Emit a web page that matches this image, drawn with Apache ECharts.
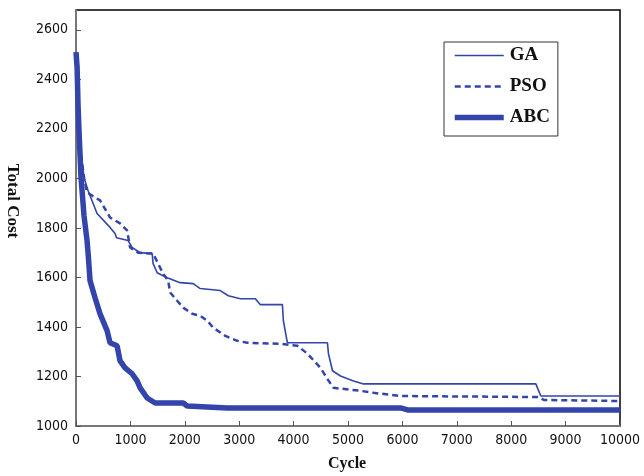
<!DOCTYPE html>
<html><head><meta charset="utf-8">
<script src="https://cdn.jsdelivr.net/npm/echarts@6/dist/echarts.min.js"></script>
<style>html,body{margin:0;padding:0;background:#fff}#c{width:644px;height:476px}</style>
</head><body><div id="c"></div>
<script>
const xTicks = [0,1000,2000,3000,4000,5000,6000,7000,8000,9000,10000];
const yTicks = [1000,1200,1400,1600,1800,2000,2200,2400,2600];
const seriesNames = ['GA','PSO','ABC'];
const gaData = [[0,2500],[40,2300],[90,2100],[150,2000],[221,1951],[387,1858],[626,1802],[718,1777],[745,1760],[958,1749],[1031,1721],[1179,1700],[1400,1696],[1418,1656],[1492,1619],[1676,1599],[1915,1579],[2155,1575],[2284,1555],[2652,1547],[2800,1526],[3020,1514],[3297,1514],[3389,1490],[3794,1490],[3812,1425],[3886,1336],[4622,1336],[4641,1292],[4715,1223],[4862,1202],[5101,1182],[5285,1170],[8453,1170],[8490,1150],[8545,1121],[10000,1121]];
const psoData = [[0,2500],[40,2300],[90,2100],[150,2000],[203,1943],[442,1911],[626,1842],[810,1818],[939,1790],[994,1721],[1142,1700],[1418,1696],[1510,1656],[1602,1615],[1694,1587],[1731,1539],[1860,1506],[1971,1478],[2136,1453],[2284,1445],[2413,1425],[2523,1397],[2744,1364],[2965,1344],[3149,1336],[3757,1332],[4070,1324],[4254,1292],[4493,1235],[4622,1190],[4733,1154],[5230,1142],[5469,1134],[5966,1121],[8508,1117],[8600,1105],[10000,1101]];
const abcData = [[0,2510],[20,2450],[37,2300],[55,2194],[92,2004],[147,1850],[203,1749],[225,1690],[258,1587],[350,1518],[442,1453],[571,1385],[626,1336],[755,1324],[810,1263],[902,1235],[1031,1211],[1123,1182],[1179,1154],[1308,1113],[1455,1093],[1971,1093],[2044,1081],[2781,1073],[5966,1073],[6095,1065],[10000,1065]];

const blue = '#3344aa';
const tickFont = {fontFamily:'"DejaVu Sans Condensed","DejaVu Sans",sans-serif', fontSize:14, color:'#111'};
const chart = echarts.init(document.getElementById('c'), null, {renderer:'canvas'});
chart.setOption({
  animation:false,
  backgroundColor:'#fff',
  grid:{left:76,right:24,top:10,bottom:50,show:true,borderColor:'#000',borderWidth:1.5,backgroundColor:'transparent'},
  xAxis:{type:'value',min:0,max:10000,interval:1000,
    axisLine:{show:true,lineStyle:{color:'#777',width:2}},
    axisTick:{show:true,inside:true,length:5,lineStyle:{color:'#555',width:1}},
    splitLine:{show:false},
    axisLabel:Object.assign({margin:7,formatter:v=>xTicks.includes(v)?String(v):''},tickFont)},
  yAxis:{type:'value',min:1000,max:2680,interval:200,
    axisLine:{show:true,lineStyle:{color:'#777',width:2}},
    axisTick:{show:true,inside:true,length:5,lineStyle:{color:'#555',width:1}},
    splitLine:{show:false},
    axisLabel:Object.assign({margin:8,showMaxLabel:false,formatter:v=>yTicks.includes(v)?String(v):''},tickFont)},
  legend:{orient:'vertical',left:444,top:42,padding:[4,8,9,8],itemGap:12,itemWidth:49,itemHeight:14,
    borderColor:'#333',borderWidth:1,backgroundColor:'#fff',
    itemStyle:{opacity:0},
    textStyle:{fontFamily:'"Liberation Serif",serif',fontWeight:'bold',fontSize:19,color:'#111',padding:[0,0,0,1]},
    data:[
      {name:'GA',lineStyle:{width:1.6}},
      {name:'PSO',lineStyle:{width:2.5,type:[6,4]}},
      {name:'ABC',lineStyle:{width:5.5}}
    ]},
  graphic:[
    {type:'text',left:328,top:456,style:{text:'Cycle',font:'bold 16px "Liberation Serif", serif',fill:'#111'}},
    {type:'text',x:21,y:201,rotation:-Math.PI/2,style:{text:'Total Cost',font:'bold 17px "Liberation Serif", serif',fill:'#111',align:'center',verticalAlign:'top'}}
  ],
  series:[
    {name:'GA',type:'line',data:gaData,symbol:'none',lineStyle:{color:blue,width:1.6},itemStyle:{color:blue},z:3},
    {name:'PSO',type:'line',data:psoData,symbol:'none',lineStyle:{color:blue,width:2.5,type:[6,4]},itemStyle:{color:blue},z:3},
    {name:'ABC',type:'line',data:abcData,symbol:'none',lineStyle:{color:blue,width:5.5},itemStyle:{color:blue},z:4}
  ]
});
</script></body></html>
